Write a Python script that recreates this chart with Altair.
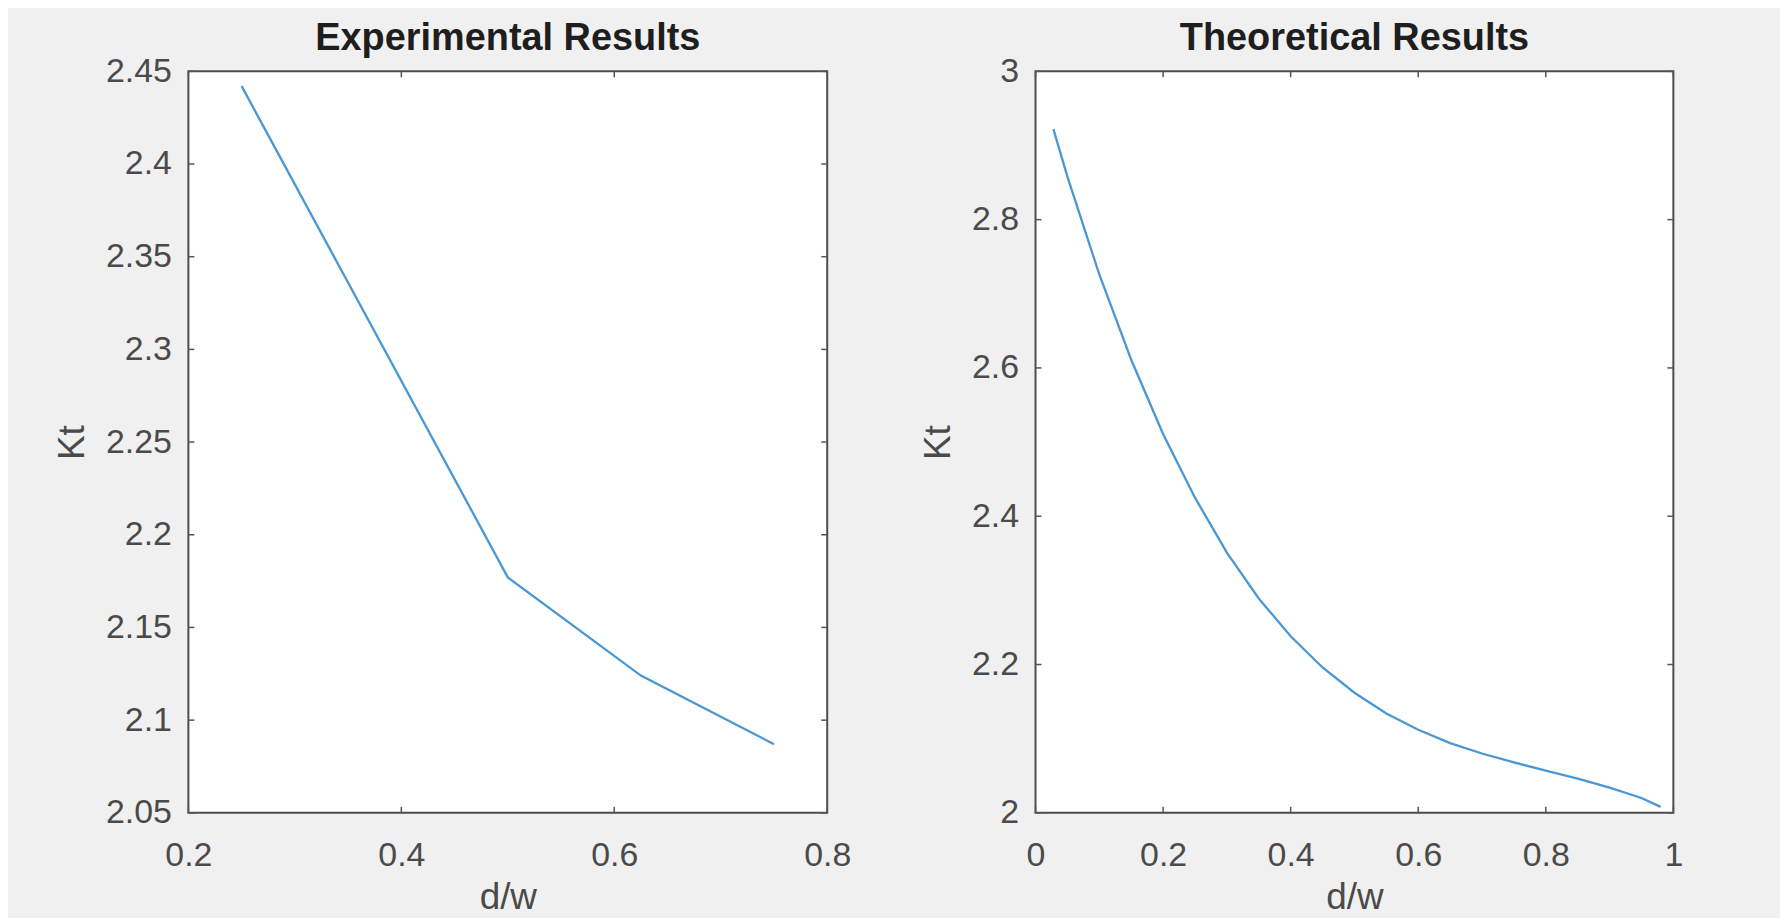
import altair as alt
import pandas as pd

# ---- data ----
exp_x = [0.25, 0.5, 0.625, 0.75]
exp_kt = [2.442, 2.177, 2.124, 2.087]

theo_x = [0.028, 0.05, 0.1, 0.15, 0.2, 0.25, 0.3, 0.35, 0.4, 0.45, 0.5,
          0.55, 0.6, 0.65, 0.7, 0.75, 0.8, 0.85, 0.9, 0.95, 0.98]
theo_kt = [2.922, 2.858, 2.726, 2.611, 2.511, 2.425, 2.351, 2.289, 2.238, 2.196, 2.162,
           2.134, 2.112, 2.094, 2.080, 2.068, 2.057, 2.046, 2.034, 2.020, 2.008]

exp_xticks = [0.2, 0.4, 0.6, 0.8]
exp_yticks = [2.05, 2.1, 2.15, 2.2, 2.25, 2.3, 2.35, 2.4, 2.45]
theo_xticks = [0, 0.2, 0.4, 0.6, 0.8, 1]
theo_yticks = [2, 2.2, 2.4, 2.6, 2.8, 3]

titles = ["Experimental Results", "Theoretical Results"]
x_title = "d/w"
y_title = "Kt"

FONT = "Liberation Sans"
LINE_COLOR = "#4b97d3"
TEXT_COLOR = "#4a4a4a"
TICK_COLOR = "#555555"
TICK_LEN = 6


def panel(xs, ys, xdom, ydom, xticks, yticks, title, W, H, xfmt, yfmt):
    line_df = pd.DataFrame({"x": xs, "y": ys})
    xt_df = pd.DataFrame({"x": xticks})
    yt_df = pd.DataFrame({"y": yticks})

    xaxis = alt.Axis(values=xticks, format=xfmt, title=x_title, grid=False, domain=False,
                     ticks=False, tickSize=0, labelPadding=26, labelFlush=False,
                     labelFont=FONT, labelFontSize=34, labelColor=TEXT_COLOR,
                     titleFont=FONT, titleFontSize=37, titleFontWeight="normal",
                     titleColor=TEXT_COLOR, titlePadding=7)
    yaxis = alt.Axis(values=yticks, format=yfmt, title=y_title, grid=False, domain=False,
                     ticks=False, tickSize=0, labelPadding=17, labelFlush=False,
                     labelFont=FONT, labelFontSize=34, labelColor=TEXT_COLOR,
                     titleFont=FONT, titleFontSize=37, titleFontWeight="normal",
                     titleColor=TEXT_COLOR, titlePadding=14)
    X = alt.X("x:Q", scale=alt.Scale(domain=xdom, nice=False, zero=False), axis=xaxis)
    Y = alt.Y("y:Q", scale=alt.Scale(domain=ydom, nice=False, zero=False), axis=yaxis)

    line = alt.Chart(line_df).mark_line(color=LINE_COLOR, strokeWidth=2.3).encode(x=X, y=Y)

    tick_style = dict(color=TICK_COLOR, strokeWidth=1.5)
    bottom = alt.Chart(xt_df).mark_rule(**tick_style).encode(
        x=X, y=alt.value(H), y2=alt.value(H - TICK_LEN))
    top = alt.Chart(xt_df).mark_rule(**tick_style).encode(
        x=X, y=alt.value(0), y2=alt.value(TICK_LEN))
    left = alt.Chart(yt_df).mark_rule(**tick_style).encode(
        y=Y, x=alt.value(0), x2=alt.value(TICK_LEN))
    right = alt.Chart(yt_df).mark_rule(**tick_style).encode(
        y=Y, x=alt.value(W - TICK_LEN), x2=alt.value(W))

    return alt.layer(line, bottom, top, left, right).properties(
        width=W, height=H,
        title=alt.Title(title, font=FONT, fontSize=38, fontWeight="bold",
                        color="#1e1e1e", anchor="middle", offset=-4),
    )


p1 = panel(exp_x, exp_kt, [0.2, 0.8], [2.05, 2.45], exp_xticks, exp_yticks,
           titles[0], 641, 744, ".1~f", ".2~f")
p2 = panel(theo_x, theo_kt, [0, 1], [2, 3], theo_xticks, theo_yticks,
           titles[1], 640, 744, ".1~f", ".1~f")

chart = alt.hconcat(p1, p2, spacing=66).properties(
    background="#f0f0f0",
    padding={"left": 44, "top": 10, "right": 96, "bottom": 0},
).configure_view(
    stroke="#4d4d4d", strokeWidth=2, fill="white"
)

chart.save("out.html", embed_options={"renderer": "svg", "actions": False})
